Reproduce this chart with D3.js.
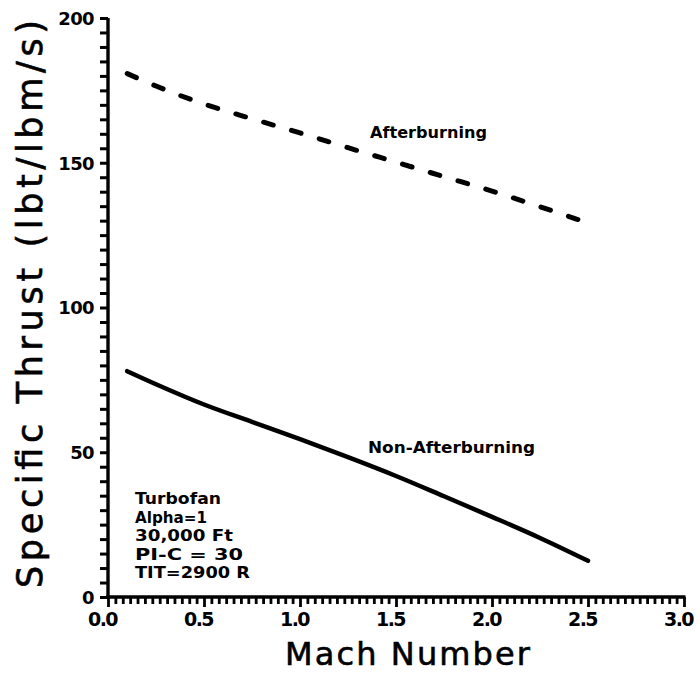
<!DOCTYPE html>
<html>
<head>
<meta charset="utf-8">
<script src="https://cdn.jsdelivr.net/npm/d3@7"></script>
<style>
  body { margin: 0; background: #fff; }
</style>
</head>
<body>
<svg id="chart" width="700" height="674"></svg>
<script>
// Mach numbers at which specific thrust was evaluated
const mach = [0.1, 0.25, 0.5, 0.75, 1.0, 1.25, 1.5, 1.75, 2.0, 2.25, 2.5];
// Specific thrust, lbf/(lbm/s)
const afterburning    = [180.8, 176.5, 170.3, 165.2, 160.3, 155.2, 150.2, 145.2, 140.2, 134.8, 129.2];
const nonAfterburning = [78.0, 73.5, 66.5, 60.5, 54.5, 48.3, 41.8, 34.8, 27.7, 20.4, 12.5];

const yMajorTicks = [0, 50, 100, 150, 200];
const xMajorTicks = [0.0, 0.5, 1.0, 1.5, 2.0, 2.5, 3.0];
const notes = ["Turbofan", "Alpha=1", "30,000  Ft", "PI-C  =  30", "TIT=2900  R"];
const noteWidths = [86, 72, 98, 108, 115];

const svg = d3.select("#chart");
const plot = { left: 108, right: 684, top: 18, bottom: 597 };

const x = d3.scaleLinear().domain([0, 3]).range([plot.left, plot.right]);
const y = d3.scaleLinear().domain([0, 200]).range([plot.bottom, plot.top]);

// y axis: minor ticks every 5, labels every 50
const yAxis = d3.axisLeft(y)
  .tickValues(d3.range(0, 201, 5))
  .tickSize(8)
  .tickPadding(6)
  .tickFormat(d => yMajorTicks.includes(d) ? String(d) : "");
const gy = svg.append("g").attr("transform", `translate(${plot.left},0)`).call(yAxis);
gy.select(".domain")
  .attr("stroke", "#000")
  .attr("stroke-width", 3.4)
  .attr("d", `M0,${plot.bottom + 1.7}V${plot.top}`);
gy.selectAll(".tick line")
  .attr("stroke", "#000")
  .attr("stroke-width", 3);
gy.selectAll(".tick text")
  .attr("fill", "#000")
  .attr("font-family", "DejaVu Sans")
  .attr("font-weight", "bold")
  .attr("font-size", 18)
  .attr("letter-spacing", -0.6)
  .attr("dy", "0.35em");

// x axis: 13 minor divisions per half Mach, labels every 0.5
const xAxis = d3.axisBottom(x)
  .tickValues(d3.range(0, 79).map(i => i * 0.5 / 13))
  .tickSize(7)
  .tickPadding(9)
  .tickFormat((d, i) => i % 13 === 0 ? d3.format(".1f")(xMajorTicks[i / 13]) : "");
const gx = svg.append("g").attr("transform", `translate(0,${plot.bottom})`).call(xAxis);
gx.select(".domain")
  .attr("stroke", "#000")
  .attr("stroke-width", 3.4)
  .attr("d", `M${plot.left - 1.7},0H${plot.right + 1.5}`);
gx.selectAll(".tick line")
  .attr("stroke", "#000")
  .attr("stroke-width", 2.8)
  .attr("y2", (d, i) => i % 13 === 0 ? 10 : 7);
gx.selectAll(".tick text")
  .attr("fill", "#000")
  .attr("font-family", "DejaVu Sans")
  .attr("font-weight", "bold")
  .attr("font-size", 19)
  .attr("letter-spacing", -1.5)
  .attr("dx", -6);

// axis titles
svg.append("text")
  .attr("x", 285).attr("y", 665)
  .attr("fill", "#000")
  .attr("font-family", "DejaVu Sans")
  .attr("font-size", 32)
  .attr("stroke", "#000")
  .attr("stroke-width", 0.6)
  .attr("textLength", 245)
  .attr("lengthAdjust", "spacing")
  .text("Mach  Number");

svg.append("text")
  .attr("transform", "translate(42,588) rotate(-90)")
  .attr("fill", "#000")
  .attr("font-family", "DejaVu Sans")
  .attr("font-size", 35)
  .attr("stroke", "#000")
  .attr("stroke-width", 0.6)
  .attr("textLength", 568)
  .attr("lengthAdjust", "spacing")
  .text("Specific  Thrust  (lbt/lbm/s)");

// curves
const line = d3.line()
  .x((d, i) => x(mach[i]))
  .y(d => y(d))
  .curve(d3.curveMonotoneX);

svg.append("path")
  .datum(afterburning)
  .attr("d", line)
  .attr("fill", "none")
  .attr("stroke", "#000")
  .attr("stroke-width", 5)
  .attr("stroke-linecap", "round")
  .attr("stroke-dasharray", "10,19");

svg.append("path")
  .datum(nonAfterburning)
  .attr("d", line)
  .attr("fill", "none")
  .attr("stroke", "#000")
  .attr("stroke-width", 4.5)
  .attr("stroke-linecap", "round");

// curve labels
svg.append("text")
  .attr("x", 370).attr("y", 138)
  .attr("fill", "#000")
  .attr("font-family", "DejaVu Sans")
  .attr("font-weight", "bold")
  .attr("font-size", 16)
  .attr("textLength", 117)
  .attr("lengthAdjust", "spacingAndGlyphs")
  .text("Afterburning");

svg.append("text")
  .attr("x", 368).attr("y", 453)
  .attr("fill", "#000")
  .attr("font-family", "DejaVu Sans")
  .attr("font-weight", "bold")
  .attr("font-size", 16)
  .attr("textLength", 167)
  .attr("lengthAdjust", "spacingAndGlyphs")
  .text("Non-Afterburning");

// engine conditions
svg.append("g")
  .selectAll("text")
  .data(notes)
  .join("text")
  .attr("x", 135)
  .attr("y", (d, i) => 504 + i * 18.5)
  .attr("fill", "#000")
  .attr("font-family", "DejaVu Sans")
  .attr("font-weight", "bold")
  .attr("font-size", 15.5)
  .attr("textLength", (d, i) => noteWidths[i])
  .attr("lengthAdjust", "spacingAndGlyphs")
  .text(d => d);
</script>
</body>
</html>
